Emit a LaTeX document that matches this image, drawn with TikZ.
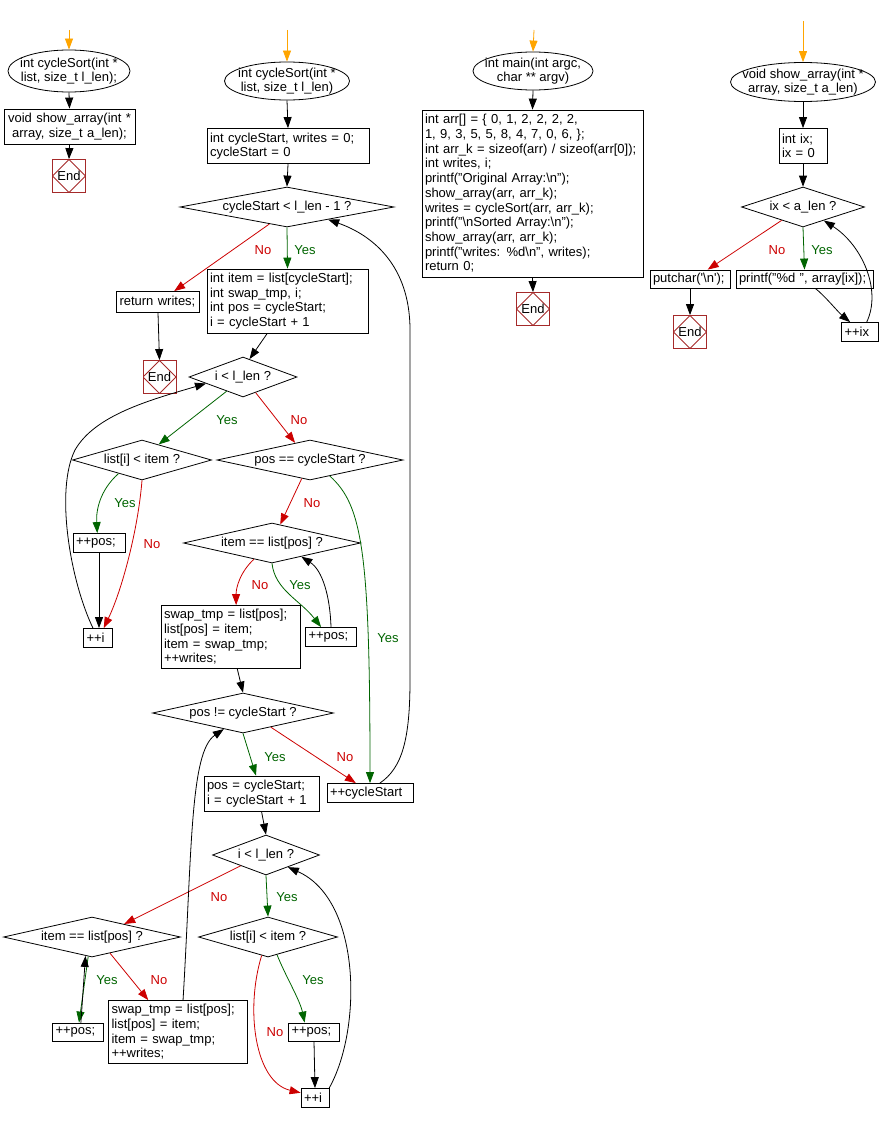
\documentclass[tikz,border=0pt]{standalone}
\usepackage{fontspec}
\setmainfont{Liberation Sans}
\usetikzlibrary{shapes.geometric,arrows.meta}
\definecolor{startOrange}{RGB}{255,165,0}
\definecolor{yesGreen}{RGB}{0,100,0}
\definecolor{noRed}{RGB}{204,0,0}
\definecolor{endRed}{RGB}{165,42,42}
\begin{document}
\begin{tikzpicture}[x={(1pt,0pt)}, y={(0pt,-1pt)}, line width=0.8pt,
  font=\fontsize{13pt}{14.7pt}\selectfont, >={Triangle[length=11pt,width=8pt]}]
%styles des noeuds
\tikzstyle{startNode}=[ellipse, draw, align=center, inner xsep=-30pt, inner ysep=-10pt]
\tikzstyle{blockNode}=[rectangle, draw, align=left, inner xsep=3pt, inner ysep=1pt]
\tikzstyle{decisionNode}=[diamond, draw, aspect=5, inner xsep=-4pt, inner ysep=-3pt, minimum height=40pt]
\tikzstyle{endNode}=[rectangle, draw=endRed, minimum size=33pt, inner sep=0pt,
  path picture={\draw[endRed] (path picture bounding box.north) -- (path picture bounding box.east)
    -- (path picture bounding box.south) -- (path picture bounding box.west) -- cycle;}]
\tikzstyle{yesText}=[text=yesGreen]
\tikzstyle{noText}=[text=noRed]
%lignes
\tikzstyle{startLine}=[->, startOrange]
\tikzstyle{flowLine}=[->, black]
\tikzstyle{yesLine}=[->, yesGreen]
\tikzstyle{noLine}=[->, noRed]
\useasboundingbox (0,0) rectangle (887,1124);

% cycleSort (declaration)
\coordinate (o1) at (69,30);
\node[startNode, minimum width=122pt, minimum height=42pt] (s1) at (69,71) {int cycleSort(int *\\list, size\_t l\_len);};
\node[blockNode, align=center, text width=125pt, minimum height=35pt] (b1) at (69.5,126.5) {void show\_array(int *\\array, size\_t a\_len);};
\node[endNode] (e1) at (69,176) {End};
\draw[startLine] (o1) -- (s1.north);
\draw[flowLine] (s1.south) -- (b1.north);
\draw[flowLine] (b1.south) -- (e1.north);

% cycleSort
\coordinate (o2) at (287,30);
\node[startNode, minimum width=125pt, minimum height=38pt] (s2) at (287,81) {int cycleSort(int *\\list, size\_t l\_len)};
\node[blockNode, text width=156pt, minimum height=35pt] (b2) at (288,146) {int cycleStart, writes = 0;\\cycleStart = 0};
\node[decisionNode, minimum width=214pt] (d1) at (287,207) {cycleStart < l\_len - 1 ?};
\node[blockNode, text width=155pt, minimum height=64pt] (b3) at (287.5,301) {int item = list[cycleStart];\\int swap\_tmp, i;\\int pos = cycleStart;\\i = cycleStart + 1};
\node[blockNode, text width=77pt, minimum height=21pt] (b4) at (158,302) {return writes;};
\node[endNode] (e2) at (159.5,377) {End};
\node[decisionNode, minimum width=108pt] (d2) at (243,377) {i < l\_len ?};
\node[decisionNode, minimum width=139pt] (d3) at (142,460) {list[i] < item ?};
\node[decisionNode, minimum width=186pt] (d4) at (310,460) {pos == cycleStart ?};
\node[blockNode, text width=46pt, minimum height=19pt] (b5) at (99,543) {++pos;};
\node[blockNode, text width=23pt, minimum height=19pt] (b6) at (98,638) {++i};
\node[decisionNode, minimum width=177pt] (d5) at (272,543) {item == list[pos] ?};
\node[blockNode, text width=133pt, minimum height=63pt] (b7) at (230.5,637) {swap\_tmp = list[pos];\\list[pos] = item;\\item = swap\_tmp;\\++writes;};
\node[blockNode, text width=45pt, minimum height=19pt] (b8) at (331,637) {++pos;};
\node[decisionNode, minimum width=181pt] (d6) at (243,713) {pos != cycleStart ?};
\node[blockNode, text width=109pt, minimum height=35pt] (b9) at (261.5,793.5) {pos = cycleStart;\\i = cycleStart + 1};
\node[blockNode, text width=80pt, minimum height=19pt] (b10) at (370,793) {++cycleStart};
\node[decisionNode, minimum width=107pt] (d7) at (266,855) {i < l\_len ?};
\node[decisionNode, minimum width=177pt] (d8) at (92,937) {item == list[pos] ?};
\node[decisionNode, minimum width=139pt] (d9) at (268,937) {list[i] < item ?};
\node[blockNode, text width=45pt, minimum height=18pt] (b11) at (78,1032) {++pos;};
\node[blockNode, text width=133pt, minimum height=63pt] (b12) at (178,1032) {swap\_tmp = list[pos];\\list[pos] = item;\\item = swap\_tmp;\\++writes;};
\node[blockNode, text width=45pt, minimum height=18pt] (b13) at (314,1032) {++pos;};
\node[blockNode, text width=22pt, minimum height=19pt] (b14) at (315,1098) {++i};

\draw[startLine] (o2) -- (s2.north);
\draw[flowLine] (s2.south) -- (b2.north);
\draw[flowLine] (b2.south) -- (d1.north);
\draw[yesLine] (d1.south) -- (b3.north);
\draw[noLine] (d1.224) -- (b4.34);
\draw[flowLine] (b4.south) -- (e2.north);
\draw[flowLine] (b3.238) -- (d2.70);
\draw[yesLine] (d2.221) -- (d3.43);
\draw[noLine] (d2.309) -- (d4.131);
\draw[yesLine] (d3.210) .. controls (100,490) and (96,510) .. (b5.100);
\draw[noLine] (d3.south) .. controls (138,530) and (122,590) .. (b6.60);
\draw[flowLine] (b5.south) -- (b5.south |- b6.north);
\draw[flowLine] (b6.117) .. controls (70,580) and (55,490) .. (75,450) .. controls (95,415) and (150,400) .. (d2.190);
\draw[noLine] (d4.246) -- (d5.66);
\draw[yesLine] (d4.321) .. controls (362,505) and (370,550) .. (b10.north);
\draw[noLine] (d5.222) .. controls (240,572) and (236,588) .. (b7.80);
\draw[yesLine] (d5.south) .. controls (275,590) and (300,600) .. (b8.135);
\draw[flowLine] (b8.north) .. controls (330,595) and (322,570) .. (d5.335);
\draw[flowLine] (b7.282) -- (d6.north);
\draw[yesLine] (d6.south) -- (b9.107);
\draw[noLine] (d6.333) -- (b10.145);
\draw[flowLine] (b10.45) .. controls (402,768) and (410,740) .. (410,680) -- (410,330) .. controls (410,265) and (372,235) .. (d1.343);
\draw[flowLine] (b9.south) -- (d7.north);
\draw[noLine] (d7.203) -- (d8.22);
\draw[yesLine] (d7.south) -- (d9.north);
\draw[yesLine] (d8.259) -- (b11.84);
\draw[flowLine] (b11.73) -- (d8.251);
\draw[noLine] (d8.318) -- (b12.133);
\draw[flowLine] (b12.81) .. controls (192,850) and (190,752) .. (d6.220);
\draw[yesLine] (d9.297) .. controls (285,975) and (300,1000) .. (b13.135);
\draw[noLine] (d9.251) .. controls (245,1010) and (255,1082) .. (b14.160);
\draw[flowLine] (b13.south) -- (b14.north);
\draw[flowLine] (b14.35) .. controls (362,1030) and (362,900) .. (d7.331);

% main
\coordinate (o3) at (534,30);
\node[startNode, minimum width=120pt, minimum height=38pt] (s3) at (533,71) {int main(int argc,\\char ** argv)};
\node[blockNode, text width=215pt, minimum height=167pt] (b15) at (532.5,193.5) {int arr[] = \{ 0, 1, 2, 2, 2, 2,\\1, 9, 3, 5, 5, 8, 4, 7, 0, 6, \};\\int arr\_k = sizeof(arr) / sizeof(arr[0]);\\int writes, i;\\printf("Original Array:\textbackslash n");\\show\_array(arr, arr\_k);\\writes = cycleSort(arr, arr\_k);\\printf("\textbackslash nSorted Array:\textbackslash n");\\show\_array(arr, arr\_k);\\printf("writes: \%d\textbackslash n", writes);\\return 0;};
\node[endNode] (e3) at (533,309) {End};
\draw[startLine] (o3) -- (s3.north);
\draw[flowLine] (s3.south) -- (b15.north);
\draw[flowLine] (b15.south) -- (e3.north);

% show_array
\coordinate (o4) at (803,21);
\node[startNode, minimum width=145pt, minimum height=39pt] (s4) at (803,82) {void show\_array(int *\\array, size\_t a\_len)};
\node[blockNode, text width=42pt, minimum height=35pt] (b16) at (803,146) {int ix;\\ix = 0};
\node[decisionNode, minimum width=123pt] (d10) at (803,207) {ix < a\_len ?};
\node[blockNode, text width=74pt, minimum height=18pt] (b17) at (690,279) {putchar(\textquotesingle\textbackslash n\textquotesingle);};
\node[blockNode, text width=131pt, minimum height=18pt] (b18) at (804.5,279) {printf("\%d ", array[ix]);};
\node[endNode] (e4) at (690,332) {End};
\node[blockNode, text width=31pt, minimum height=19pt] (b19) at (860,332) {++ix};
\draw[startLine] (o4) -- (s4.north);
\draw[flowLine] (s4.south) -- (b16.north);
\draw[flowLine] (b16.south) -- (d10.north);
\draw[noLine] (d10.212) -- (b17.28);
\draw[yesLine] (d10.south) -- (b18.north);
\draw[flowLine] (b17.south) -- (e4.north);
\draw[flowLine] (b18.319) .. controls (825,296) and (838,312) .. (b19.135);
\draw[flowLine] (b19.56) .. controls (882,290) and (862,245) .. (d10.327);

%etiquettes
\node[yesText] (y1) at (305,250) {Yes};
\node[noText] (n1) at (263,250) {No};
\node[yesText] (y2) at (227,420) {Yes};
\node[noText] (n2) at (299,420) {No};
\node[yesText] (y3) at (125,503) {Yes};
\node[noText] (n3) at (152,544) {No};
\node[noText] (n4) at (312,503) {No};
\node[yesText] (y4) at (388,638) {Yes};
\node[noText] (n5) at (260,585) {No};
\node[yesText] (y5) at (300,585) {Yes};
\node[yesText] (y6) at (275,757) {Yes};
\node[noText] (n6) at (345,757) {No};
\node[noText] (n7) at (219,897) {No};
\node[yesText] (y7) at (287,897) {Yes};
\node[yesText] (y8) at (107,980) {Yes};
\node[noText] (n8) at (159,980) {No};
\node[yesText] (y9) at (313,980) {Yes};
\node[noText] (n9) at (275,1032) {No};
\node[noText] (n10) at (777,250) {No};
\node[yesText] (y10) at (822,250) {Yes};
\end{tikzpicture}
\end{document}
